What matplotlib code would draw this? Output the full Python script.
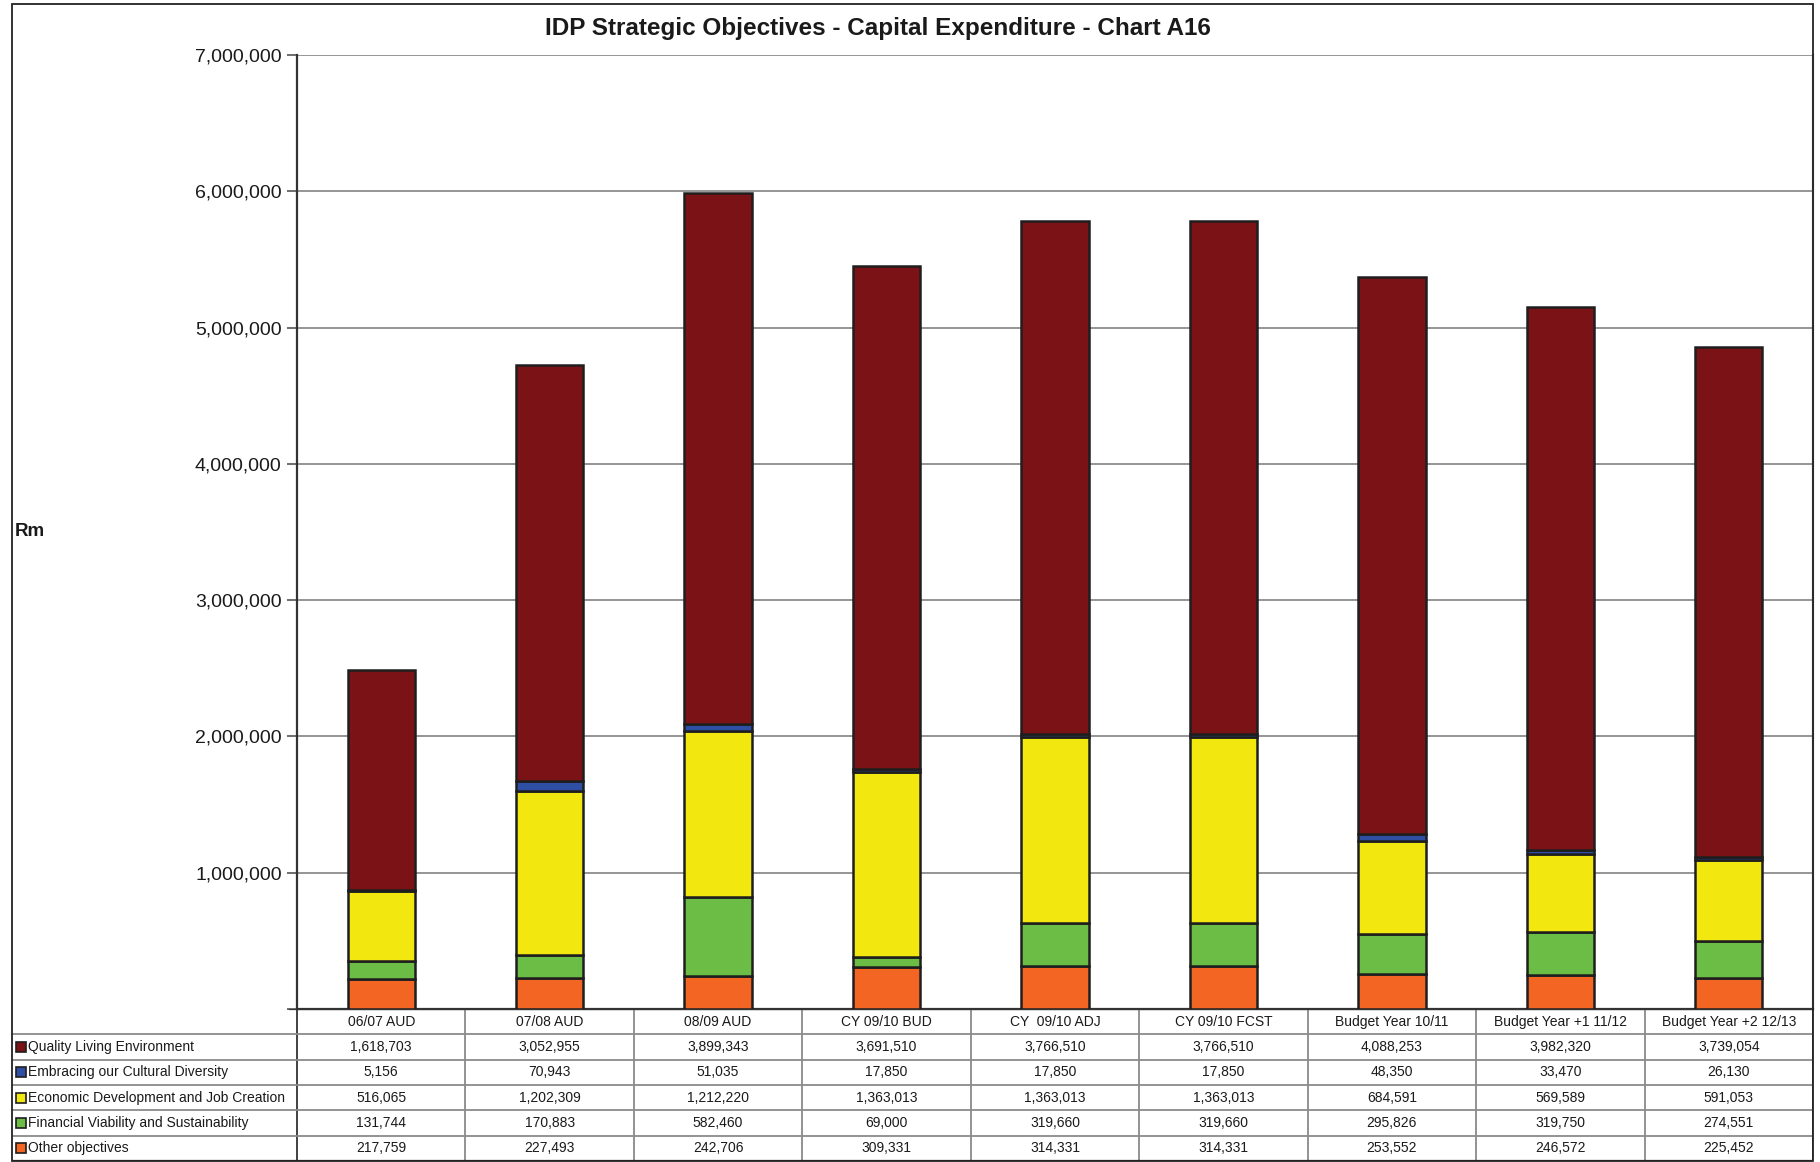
import matplotlib
matplotlib.use("Agg")
import matplotlib.pyplot as plt
from matplotlib.patches import Rectangle
from matplotlib.ticker import FuncFormatter, MultipleLocator

plt.rcParams['font.family'] = ['Liberation Sans', 'DejaVu Sans']

# ---- data -------------------------------------------------------------
categories = ["06/07 AUD", "07/08 AUD", "08/09 AUD", "CY 09/10 BUD", "CY  09/10 ADJ",
              "CY 09/10 FCST", "Budget Year 10/11", "Budget Year +1 11/12",
              "Budget Year +2 12/13"]

quality_living = [1618703, 3052955, 3899343, 3691510, 3766510, 3766510, 4088253, 3982320, 3739054]
cultural_diversity = [5156, 70943, 51035, 17850, 17850, 17850, 48350, 33470, 26130]
economic_dev = [516065, 1202309, 1212220, 1363013, 1363013, 1363013, 684591, 569589, 591053]
financial_viability = [131744, 170883, 582460, 69000, 319660, 319660, 295826, 319750, 274551]
other_objectives = [217759, 227493, 242706, 309331, 314331, 314331, 253552, 246572, 225452]

series_names = ["Quality Living Environment", "Embracing our Cultural Diversity",
                "Economic Development and Job Creation",
                "Financial Viability and Sustainability", "Other objectives"]
series_values = [quality_living, cultural_diversity, economic_dev,
                 financial_viability, other_objectives]
series_colors = ["#7b1316", "#2e4fa3", "#f2e80f", "#6bbd45", "#f26522"]

# ---- figure geometry (pixels) ----------------------------------------
W, H = 1820, 1162
fig = plt.figure(figsize=(W / 100, H / 100), dpi=100)

px_left, px_right = 297, 1813
px_top, px_bottom = 55, 1009
px_tab_left, px_tab_bottom = 12, 1161

ax = fig.add_axes([px_left / W, 1 - px_bottom / H,
                   (px_right - px_left) / W, (px_bottom - px_top) / H])

n = len(categories)
xs = list(range(n))
bar_w = 0.40

# stacked from bottom: other, financial, economic, cultural, quality
bottom = [0] * n
for name, vals, col in reversed(list(zip(series_names, series_values, series_colors))):
    ax.bar(xs, vals, bar_w, bottom=bottom, color=col, edgecolor="#1e1e1e",
           linewidth=1.8, zorder=3, label=name)
    bottom = [b + v for b, v in zip(bottom, vals)]

ax.set_xlim(-0.5, n - 0.5)
ax.set_ylim(0, 7000000)
ax.yaxis.set_major_locator(MultipleLocator(1000000))
ax.yaxis.set_major_formatter(FuncFormatter(lambda v, p: "" if v == 0 else f"{int(v):,}"))
ax.tick_params(axis="y", labelsize=14, length=7, width=1.2, color="#555555",
               pad=4, labelcolor="#1a1a1a")
ax.set_xticks([])
ax.yaxis.grid(True, color="#8c8c8c", linewidth=1.3, zorder=0)
ax.set_axisbelow(True)
ax.spines["top"].set_visible(False)
ax.spines["left"].set_color("#333333")
ax.spines["left"].set_linewidth(1.6)
ax.spines["bottom"].set_color("#333333")
ax.spines["bottom"].set_linewidth(1.6)
ax.spines["right"].set_color("#8c8c8c")
ax.spines["right"].set_linewidth(1.6)

# ---- data table beneath the plot --------------------------------------
unit = (px_right - px_left) / n
x_lab = -0.5 - (px_left - px_tab_left) / unit
tax = fig.add_axes([px_tab_left / W, 1 - px_tab_bottom / H,
                    (px_right - px_tab_left) / W, (px_tab_bottom - px_bottom) / H])
tax.set_xlim(x_lab, n - 0.5)
tax.set_ylim(6, 0)
tax.axis("off")

grid_c = "#8a8a8a"
for k in range(n + 1):
    tax.plot([-0.5 + k, -0.5 + k], [0, 6], color=grid_c if 0 < k < n else "#333333",
             lw=1.3, solid_capstyle="butt")
for r in range(1, 6):
    tax.plot([x_lab, n - 0.5], [r, r], color=grid_c, lw=1.3)
tax.plot([x_lab, n - 0.5], [6, 6], color="#222222", lw=1.6)
tax.plot([-0.5 - 0.04, n - 0.5], [0, 0], color="#333333", lw=1.6)

for i, c in enumerate(categories):
    tax.text(i, 0.5, c, ha="center", va="center", fontsize=10, color="#1a1a1a")

sw_w = 10 / unit
sw_h = 0.40
for r, (name, vals, col) in enumerate(zip(series_names, series_values, series_colors), start=1):
    tax.add_patch(Rectangle((x_lab + 4 / unit, r + 0.5 - sw_h / 2), sw_w, sw_h,
                            facecolor=col, edgecolor="#1e1e1e", lw=1.2))
    tax.text(x_lab + 16 / unit, r + 0.5, name, ha="left", va="center",
             fontsize=10, color="#1a1a1a")
    for i, v in enumerate(vals):
        tax.text(i, r + 0.5, f"{v:,}", ha="center", va="center", fontsize=10,
                 color="#1a1a1a")

# ---- titles and labels ------------------------------------------------
fig.text(878 / W, 1 - 28 / H, "IDP Strategic Objectives - Capital Expenditure - Chart A16",
         ha="center", va="center", fontsize=17.5, fontweight="bold", color="#1a1a1a")
fig.text(15 / W, 1 - 532 / H, "Rm", ha="left", va="center", fontsize=13.5,
         fontweight="bold", color="#1a1a1a")

# outer frame
fig.add_artist(Rectangle((12 / W, 1 - 1161 / H), (1813 - 12) / W, (1161 - 4) / H,
                         transform=fig.transFigure, fill=False,
                         edgecolor="#222222", lw=1.3))

fig.savefig("out.png", dpi=100, facecolor="white")
